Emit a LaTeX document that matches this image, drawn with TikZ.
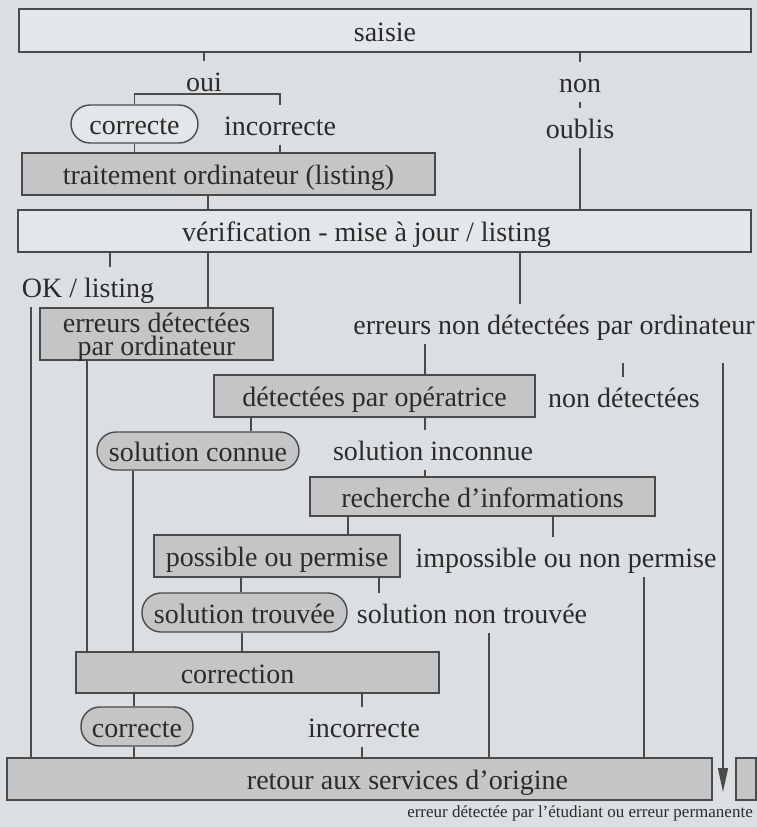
\documentclass[tikz,border=0pt]{standalone}
\usepackage{fontspec}
\setmainfont{Liberation Serif}
\usepackage{xcolor}
\usepackage{tikz}
\usetikzlibrary{arrows.meta}

\definecolor{paper}{HTML}{DCDFE2}
\definecolor{lightfill}{HTML}{E4E7E9}
\definecolor{shade}{HTML}{C3C5C7}
\definecolor{edgecol}{HTML}{4A4A4A}
\definecolor{inkcol}{HTML}{2B2B2B}

\begin{document}
\begin{tikzpicture}[
            x=1pt, y=-1pt,
            font=\fontsize{28}{22.5}\selectfont,
            text=inkcol,
            box/.style={draw=edgecol, line width=1.4pt, inner sep=0pt,
            text height=25pt, text depth=4pt, align=center},
            plainbox/.style={box, fill=lightfill},
            shadebox/.style={box, fill=shade},
            pill/.style={rounded corners=19pt},
            lbl/.style={inner sep=0pt, text height=30pt, text depth=9pt},
            link/.style={draw=edgecol, line width=1.2pt},
            drop/.style={link, -{Triangle[length=24pt,width=10pt]}}
        ]
\useasboundingbox (0,0) rectangle (757,827);
\fill[paper] (0,0) rectangle (757,827);

% --- boxes ---
            \node[plainbox, minimum width=732pt, minimum height=43pt] (saisie) at (385,30.5) {saisie};
            \node[shadebox, minimum width=413pt, minimum height=42pt] (trait) at (228.5,174) {traitement ordinateur (listing)};
            \node[plainbox, minimum width=733pt, minimum height=42pt,
                  label={[lbl, xshift=-18pt]center:vérification - mise à jour / listing}] (verif) at (384.5,231) {};
            \node[shadebox, minimum width=233pt, minimum height=52pt, text height=46pt] (errdet) at (156.5,334)
                {erreurs détectées\\par ordinateur};
            \node[shadebox, minimum width=321pt, minimum height=42pt] (detop) at (374.5,396) {détectées par opératrice};
            \node[shadebox, minimum width=345pt, minimum height=39pt] (rech) at (482.5,496.5) {recherche d’informations};
            \node[shadebox, minimum width=246pt, minimum height=42pt] (possible) at (277,556) {possible ou permise};
            \node[shadebox, minimum width=363pt, minimum height=41pt,
                  label={[lbl, xshift=-20pt]center:correction}] (correction) at (257.5,672.5) {};
            \node[shadebox, minimum width=705pt, minimum height=42pt,
                  label={[lbl, xshift=48pt]center:retour aux services d’origine}] (retour) at (359.5,779) {};
            \node[shadebox, minimum width=20pt, minimum height=42pt] (smallbox) at (746,779) {};

% --- rounded outcomes ---
            \node[plainbox, pill, minimum width=127pt, minimum height=38pt] (corr1) at (134.5,124) {correcte};
            \node[shadebox, pill, minimum width=202pt, minimum height=38pt] (solconnue) at (198,451) {solution connue};
            \node[shadebox, pill, minimum width=205pt, minimum height=39pt] (soltrouvee) at (244.5,612.5) {solution trouvée};
            \node[shadebox, pill, minimum width=112pt, minimum height=39pt] (corr2) at (137,726.5) {correcte};

% --- plain labels ---
            \node[lbl] (oui)     at (204,81)  {oui};
            \node[lbl] (incorr1) at (280,125) {incorrecte};
            \node[lbl] (non)     at (580,82)  {non};
            \node[lbl] (oublis)  at (580,128) {oublis};
            \node[lbl] (oklist)  at (88,287)  {OK / listing};
            \node[lbl] (errnd)   at (554,324) {erreurs non détectées par ordinateur};
            \node[lbl] (nondet)  at (624,397) {non détectées};
            \node[lbl] (solinc)  at (433,450) {solution inconnue};
            \node[lbl] (impos)   at (566,557) {impossible ou non permise};
            \node[lbl] (solnt)   at (472,613) {solution non trouvée};
            \node[lbl] (incorr2) at (364,727) {incorrecte};
            \node[font=\fontsize{17}{20}\selectfont, inner sep=0pt] (errperm) at (580,813)
                {erreur détectée par l’étudiant ou erreur permanente};

            \coordinate (ouibrk)   at (204,94);
            \coordinate (arrowend) at (723,792);

% saisie: oui / non
            \draw[link] (saisie.south -| oui.north) -- (oui.north);
            \draw[link] (corr1.north) |- (ouibrk) -| (incorr1.north);
            \draw[link] (corr1.south) -- (corr1.south |- trait.north);
            \draw[link] (incorr1.south) -- (incorr1.south |- trait.north);
            \draw[link] (saisie.south -| non.north) -- (non.north);
            \draw[link] (non.south) -- (oublis.north);
            \draw[link] (oublis.south) -- (oublis.south |- verif.north);
            \draw[link] (trait.south -| 208,0) -- (verif.north -| 208,0);

% verification outcomes
            \draw[link] (verif.south -| 110,0) -- (oklist.north -| 110,0);
            \draw[link] (verif.south -| 208,0) -- (errdet.north -| 208,0);
            \draw[link] (verif.south -| 520,0) -- (errnd.north -| 520,0);
            \draw[link] (oklist.south -| 31,0) -- (retour.north -| 31,0);
            \draw[link] (errdet.south -| 87,0) -- (correction.north -| 87,0);
            \draw[link] (errnd.south -| 425,0) -- (detop.north -| 425,0);
            \draw[link, shorten <=19pt] (errnd.south -| 623,0) -- (nondet.north -| 623,0);
            \draw[drop, shorten <=19pt] (errnd.south -| arrowend) -- (arrowend);

% operator checks
            \draw[link] (detop.south -| 251,0) -- (solconnue.north -| 251,0);
            \draw[link] (detop.south -| 425,0) -- (solinc.north -| 425,0);
            \draw[link] (solconnue.south -| 133,0) -- (correction.north -| 133,0);
            \draw[link] (solinc.south -| 425,0) -- (rech.north -| 425,0);
            \draw[link] (rech.south -| 348,0) -- (possible.north -| 348,0);
            \draw[link] (rech.south -| 553,0) -- (impos.north -| 553,0);
            \draw[link] (impos.south -| 644,0) -- (retour.north -| 644,0);
            \draw[link] (possible.south -| 241,0) -- (soltrouvee.north -| 241,0);
            \draw[link] (possible.south -| 379,0) -- (solnt.north -| 379,0);
            \draw[link] (solnt.south -| 489,0) -- (retour.north -| 489,0);
            \draw[link] (soltrouvee.south -| 242,0) -- (correction.north -| 242,0);

% correction result
            \draw[link] (correction.south -| 134,0) -- (corr2.north -| 134,0);
            \draw[link] (correction.south -| 362,0) -- (incorr2.north -| 362,0);
            \draw[link] (corr2.south -| 134,0) -- (retour.north -| 134,0);
            \draw[link] (incorr2.south -| 362,0) -- (retour.north -| 362,0);
        \end{tikzpicture}
\end{document}
